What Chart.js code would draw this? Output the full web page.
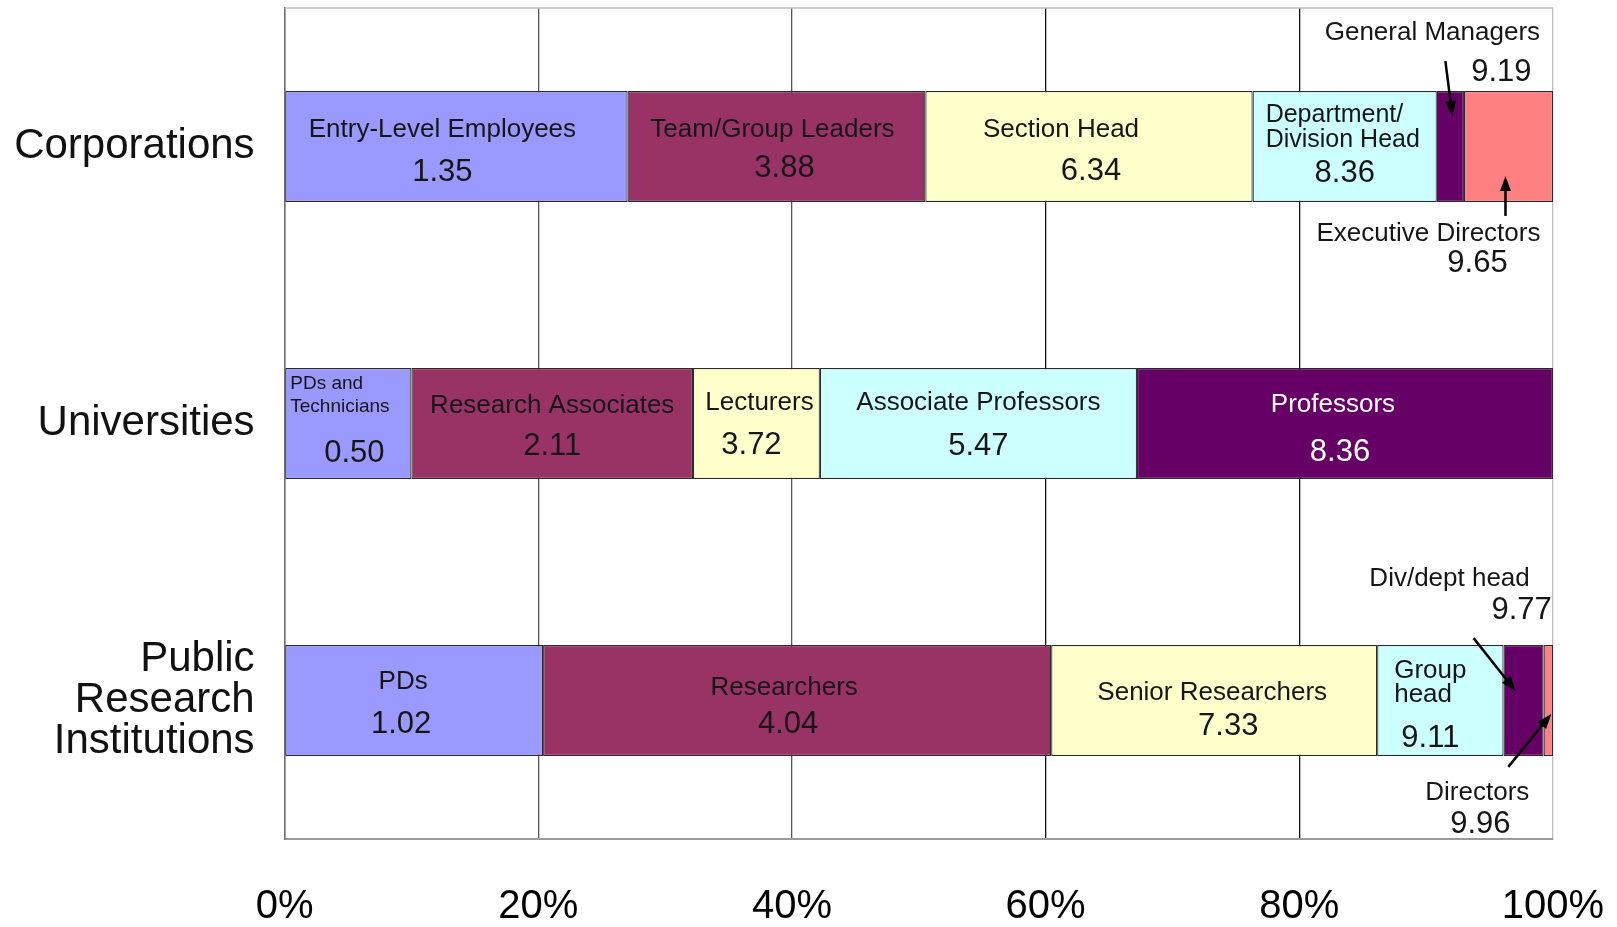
<!DOCTYPE html>
<html>
<head>
<meta charset="utf-8">
<title>Position scores by rank</title>
<script src="https://cdn.jsdelivr.net/npm/chart.js@4.4.1/dist/chart.umd.min.js"></script>
<style>
  html, body { margin: 0; padding: 0; background: #ffffff; }
  #wrap { width: 1617px; height: 927px; position: relative; }
</style>
</head>
<body>
<div id="wrap"><canvas id="chart" width="1617" height="927"></canvas></div>
<script>
// ---- data -------------------------------------------------------------
const categories = ['Corporations', 'Universities', ['Public', 'Research', 'Institutions']];
const xTicks = [0, 20, 40, 60, 80, 100];

// share of staff in each rank band (%), lowest rank first
const corporationShares = [27.04, 23.48, 25.80, 14.52, 2.14, 7.02];
const universityShares  = [10.0, 22.2, 10.0, 25.0, 32.8];
const institutionShares = [20.38, 40.06, 25.70, 9.96, 3.16, 0.74];

const corporationRanks = ['Entry-Level Employees', 'Team/Group Leaders', 'Section Head',
                          ['Department/', 'Division Head'], 'General Managers', 'Executive Directors'];
const universityRanks  = [['PDs and', 'Technicians'], 'Research Associates', 'Lecturers',
                          'Associate Professors', 'Professors'];
const institutionRanks = ['PDs', 'Researchers', 'Senior Researchers', ['Group', 'head'],
                          'Div/dept head', 'Directors'];

const bandColors = ['#9999FF', '#993366', '#FFFFCC', '#CCFFFF', '#660066', '#FF8080'];

// ---- derived tables ----------------------------------------------------
const sharesByCategory = [corporationShares, universityShares, institutionShares];
const ranksByCategory  = [corporationRanks, universityRanks, institutionRanks];
const bandCount = Math.max(...sharesByCategory.map(s => s.length));

// position score of a band = midpoint of its cumulative span, on a 0-10 scale
function bandScore(shares, i) {
  let before = 0;
  for (let k = 0; k < i; k++) before += shares[k];
  return ((before + shares[i] / 2) / 10).toFixed(2);
}

const datasets = [];
for (let b = 0; b < bandCount; b++) {
  datasets.push({
    label: 'Band ' + (b + 1),
    data: sharesByCategory.map(s => (b < s.length ? s[b] : null)),
    backgroundColor: bandColors[b],
    borderColor: '#2a2a2a',
    borderWidth: 1.2,
    borderSkipped: false,
    barPercentage: 0.4,
    categoryPercentage: 1.0
  });
}

// ---- label placement ---------------------------------------------------
const NAME_FONT = '26px "Liberation Sans", Arial, sans-serif';
const VALUE_FONT = '31px "Liberation Sans", Arial, sans-serif';
const placement = {
  '0-0': { nameDx: -14, valueDx: -14, nameDy: -17, valueDy: 26 },
  '0-1': { nameDx: -4, valueDx: 8, nameDy: -17, valueDy: 22 },
  '0-2': { nameDx: -28, valueDx: 2, nameDy: -17, valueDy: 25 },
  '0-3': { leftPad: 13, nameDy: -31, lineGap: 24.5, valueDy: 27, nameFont: '25px "Liberation Sans", Arial, sans-serif' },
  '0-4': { side: 'above', name: [-18, -58], value: [51, -19], tail: [-5, -30], tip: [2, 25] },
  '0-5': { side: 'below', name: [-80, 32], value: [-31, 62], tail: [-3, 14], tip: [-3, -26] },
  '1-0': { leftPad: 5, nameDy: -40, lineGap: 23, valueDx: 6, valueDy: 30, nameFont: '19px "Liberation Sans", Arial, sans-serif' },
  '1-1': { nameDy: -18, valueDy: 23 },
  '1-2': { nameDx: 3, valueDx: -5, nameDy: -21, valueDy: 22 },
  '1-3': { nameDy: -21, valueDy: 23 },
  '1-4': { nameDx: -12, valueDx: -5, nameDy: -19, valueDy: 29, color: '#ffffff' },
  '2-0': { nameDx: -11, valueDx: -13, nameDy: -19, valueDy: 24 },
  '2-1': { nameDx: -13, valueDx: -9, nameDy: -13, valueDy: 24 },
  '2-2': { nameDx: -2, valueDx: 14, nameDy: -8, valueDy: 26 },
  '2-3': { leftPad: 17, nameDy: -30, lineGap: 24, valueDx: -10, valueDy: 38 },
  '2-4': { side: 'above', name: [-74, -66], value: [-2, -35], tail: [-50, -7], tip: [-8, 46] },
  '2-5': { side: 'below', name: [-71, 37], value: [-68, 69], tail: [-40, 11], tip: [3, -42] }
};

function drawArrow(ctx, x1, y1, x2, y2) {
  const ang = Math.atan2(y2 - y1, x2 - x1);
  const len = 15, half = 5.5;
  ctx.save();
  ctx.strokeStyle = '#000';
  ctx.fillStyle = '#000';
  ctx.lineWidth = 2.5;
  ctx.beginPath();
  ctx.moveTo(x1, y1);
  ctx.lineTo(x2 - Math.cos(ang) * len * 0.8, y2 - Math.sin(ang) * len * 0.8);
  ctx.stroke();
  ctx.beginPath();
  ctx.moveTo(x2, y2);
  ctx.lineTo(x2 - Math.cos(ang) * len - Math.sin(ang) * half, y2 - Math.sin(ang) * len + Math.cos(ang) * half);
  ctx.lineTo(x2 - Math.cos(ang) * len + Math.sin(ang) * half, y2 - Math.sin(ang) * len - Math.cos(ang) * half);
  ctx.closePath();
  ctx.fill();
  ctx.restore();
}

const bandLabels = {
  id: 'bandLabels',
  afterDatasetsDraw(chart) {
    const ctx = chart.ctx;
    ctx.save();
    ctx.textBaseline = 'middle';
    sharesByCategory.forEach((shares, c) => {
      shares.forEach((share, b) => {
        const el = chart.getDatasetMeta(b).data[c];
        if (!el) return;
        const p = el.getProps(['x', 'base', 'y', 'height'], true);
        const left = Math.min(p.x, p.base), right = Math.max(p.x, p.base);
        const cx = (left + right) / 2, cy = p.y;
        const top = cy - p.height / 2, bottom = cy + p.height / 2;
        const cfg = placement[c + '-' + b] || {};
        const name = ranksByCategory[c][b];
        const score = bandScore(shares, b);
        ctx.fillStyle = cfg.color || '#161616';

        if (cfg.side) {
          const edge = cfg.side === 'above' ? top : bottom;
          ctx.textAlign = 'center';
          ctx.font = NAME_FONT;
          ctx.fillText(name, cx + cfg.name[0], edge + cfg.name[1]);
          ctx.font = VALUE_FONT;
          ctx.fillText(score, cx + cfg.value[0], edge + cfg.value[1]);
          drawArrow(ctx, cx + cfg.tail[0], edge + cfg.tail[1], cx + cfg.tip[0], edge + cfg.tip[1]);
          return;
        }

        ctx.font = cfg.nameFont || NAME_FONT;
        if (Array.isArray(name)) {
          ctx.textAlign = 'left';
          name.forEach((line, i) => ctx.fillText(line, left + cfg.leftPad, cy + cfg.nameDy + i * cfg.lineGap));
        } else {
          ctx.textAlign = 'center';
          ctx.fillText(name, cx + (cfg.nameDx || 0), cy + (cfg.nameDy ?? -18));
        }
        ctx.textAlign = 'center';
        ctx.font = VALUE_FONT;
        ctx.fillText(score, cx + (cfg.valueDx || 0), cy + (cfg.valueDy ?? 24));
      });
    });
    ctx.restore();
  }
};

// light frame line along the top of the plot area
const topFrame = {
  id: 'topFrame',
  beforeDatasetsDraw(chart) {
    const { ctx, chartArea } = chart;
    ctx.save();
    ctx.strokeStyle = '#bdbdbd';
    ctx.lineWidth = 1.5;
    ctx.beginPath();
    ctx.moveTo(chartArea.left, chartArea.top);
    ctx.lineTo(chartArea.right, chartArea.top);
    ctx.stroke();
    ctx.restore();
  }
};

new Chart(document.getElementById('chart'), {
  type: 'bar',
  data: { labels: categories, datasets },
  plugins: [topFrame, bandLabels],
  options: {
    indexAxis: 'y',
    responsive: false,
    animation: false,
    layout: { padding: { left: 0, right: 64, top: 8, bottom: 0 } },
    plugins: { legend: { display: false }, tooltip: { enabled: false } },
    scales: {
      x: {
        stacked: true,
        min: xTicks[0],
        max: xTicks[xTicks.length - 1],
        afterBuildTicks(scale) { scale.ticks = xTicks.map(v => ({ value: v })); },
        afterFit(scale) {
          scale.height = 88;
          scale.paddingLeft = 0;
          scale.paddingRight = 0;
        },
        grid: {
          drawTicks: false,
          lineWidth: 1.3,
          color(ctx) {
            const v = ctx.tick ? ctx.tick.value : 0;
            if (v === 100) return '#bdbdbd';
            if (v === 0) return '#777777';
            return v >= 60 ? '#111111' : '#555555';
          }
        },
        border: { display: true, color: '#9a9a9a', width: 2 },
        ticks: {
          padding: 44,
          color: '#000000',
          font: { family: '"Liberation Sans", Arial, sans-serif', size: 40 },
          callback: v => v + '%'
        }
      },
      y: {
        stacked: true,
        afterFit(scale) {
          scale.width = 284.6;
          scale.paddingTop = 0;
          scale.paddingBottom = 0;
        },
        grid: { display: false, drawTicks: false },
        border: { display: true, color: '#707070', width: 1.5 },
        ticks: {
          padding: 30,
          color: '#111111',
          font: { family: '"Liberation Sans", Arial, sans-serif', size: 42, lineHeight: 0.97 }
        }
      }
    }
  }
});
</script>
</body>
</html>
